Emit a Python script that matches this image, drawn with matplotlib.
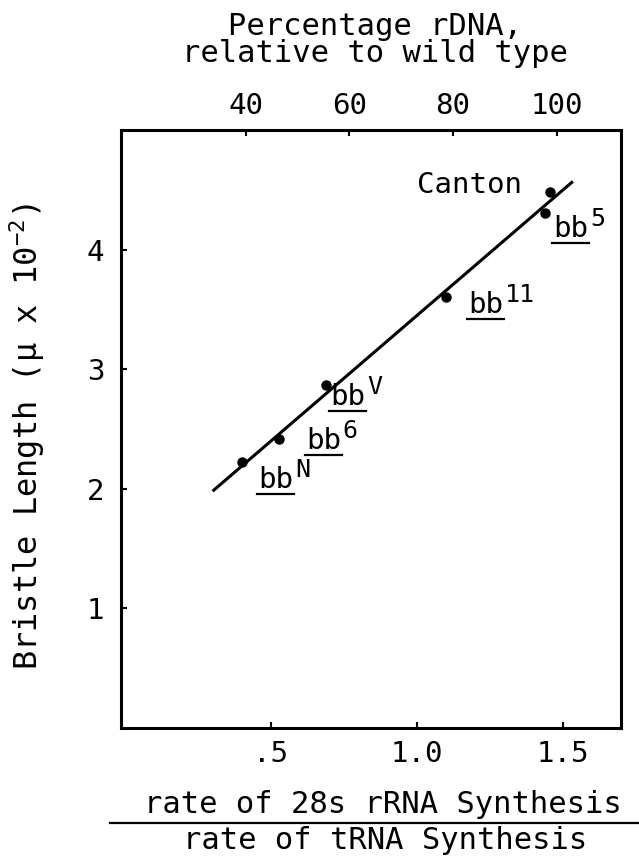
import matplotlib
matplotlib.use("Agg")
import matplotlib.pyplot as plt
from matplotlib.lines import Line2D
from matplotlib.transforms import IdentityTransform

# measured values
ratio_28s_trna = [0.40, 0.527, 0.69, 1.10, 1.44, 1.455]
bristle_length = [2.22, 2.42, 2.87, 3.60, 4.31, 4.48]
strain_sup = ['N', '6', 'V', '11', '5', None]
fit_x = [0.30, 1.535]
fit_y = [1.98, 4.57]

ratio_ticks = [0.5, 1.0, 1.5]
ratio_ticklabels = ['.5', '1.0', '1.5']
length_ticks = [1, 2, 3, 4]
rdna_ticks = [40, 60, 80, 100]

# label placement in pixels from each point (dx, dy)
label_offsets = [(16, -26), (27, -10), (4, -20), (22, -16), (8, -24), (-28, -1)]

plt.rcParams['font.family'] = ['DejaVu Sans Mono', 'DejaVu Sans']
plt.rcParams['mathtext.default'] = 'regular'
FS = 21

def pct_to_ratio(p):
    return 0.414 + (p - 40) * 0.01775

def ratio_to_pct(r):
    return 40 + (r - 0.414) / 0.01775

fig = plt.figure(figsize=(6.39, 8.57), dpi=100)
ax = fig.add_axes([121/639, 1 - 728/857, 500/639, 598/857])

ax.plot(fit_x, fit_y, color='black', lw=2.2, solid_capstyle='butt')
ax.plot(ratio_28s_trna, bristle_length, 'o', color='black', ms=6.5)

ax.set_xlim(-0.014, 1.70)
ax.set_ylim(0, 5.0)
ax.set_xticks(ratio_ticks)
ax.set_xticklabels(ratio_ticklabels)
ax.set_yticks(length_ticks)
ax.tick_params(axis='both', direction='in', length=4, width=1.5, labelsize=FS)
ax.tick_params(axis='x', pad=9)
ax.tick_params(axis='y', pad=12)
for s in ax.spines.values():
    s.set_linewidth(2.2)

top = ax.secondary_xaxis('top', functions=(ratio_to_pct, pct_to_ratio))
top.set_xticks(rdna_ticks)
top.tick_params(direction='in', length=4, width=1.5, labelsize=FS, pad=7)

ax.set_ylabel('Bristle Length (μ x 10$^{-2}$)', fontsize=FS + 2)
ax.yaxis.set_label_coords(-0.148, 0.487)

fig.text(0.587, 1 - 35/857, 'Percentage rDNA,', ha='center', va='baseline', fontsize=FS + 1)
fig.text(0.587, 1 - 62/857, 'relative to wild type', ha='center', va='baseline', fontsize=FS + 1)

fig.text(383/639, 1 - 813/857, 'rate of 28s rRNA Synthesis', ha='center', va='baseline', fontsize=FS + 1)
fig.add_artist(Line2D([110/639, 1.0], [1 - 823/857, 1 - 823/857], color='black', lw=1.6))
fig.text(385/639, 1 - 849/857, 'rate of tRNA Synthesis', ha='center', va='baseline', fontsize=FS + 1)

# strain labels
fig.canvas.draw()
r = fig.canvas.get_renderer()
for x, y, sup, (dx, dy) in zip(ratio_28s_trna, bristle_length, strain_sup, label_offsets):
    px, py = ax.transData.transform((x, y))
    if sup is None:
        fig.text(px + dx, py + dy, 'Canton', ha='right', va='baseline', fontsize=FS,
                 transform=IdentityTransform())
        continue
    t = fig.text(px + dx, py + dy, 'bb', ha='left', va='baseline', fontsize=FS,
                 transform=IdentityTransform())
    bb = t.get_window_extent(r)
    fig.add_artist(Line2D([px + dx - 1, bb.x1 + 1], [py + dy - 6, py + dy - 6],
                          color='black', lw=1.6, transform=IdentityTransform()))
    fig.text(bb.x1 + 2, py + dy + 11, sup, ha='left', va='baseline', fontsize=FS - 3,
             transform=IdentityTransform())

fig.savefig('out.png', dpi=100)
